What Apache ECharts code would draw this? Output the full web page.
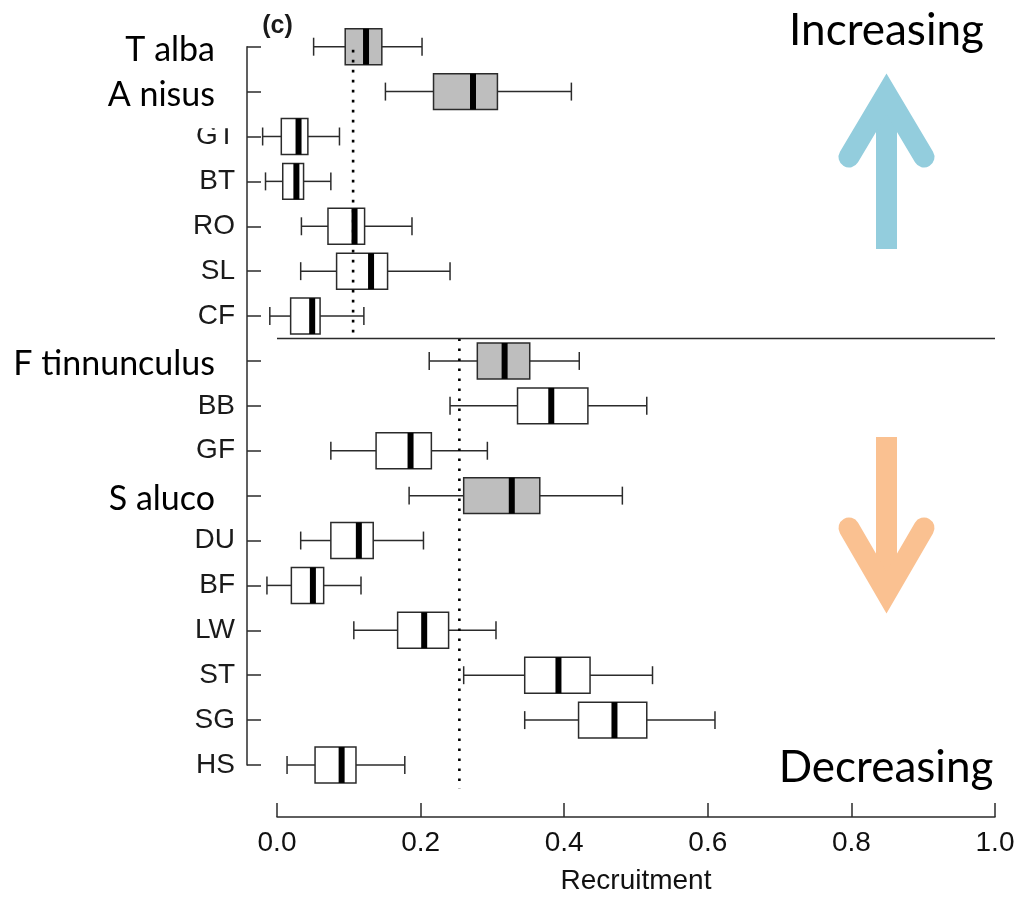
<!DOCTYPE html>
<html>
<head>
<meta charset="utf-8">
<title>Recruitment boxplots</title>
<script src="https://cdn.jsdelivr.net/npm/echarts@6/dist/echarts.min.js"></script>
<style>
  html, body { margin: 0; padding: 0; background: #fff; }
  #chart { width: 1019px; height: 900px; }
</style>
</head>
<body>
<div id="chart"></div>
<script>
// rows, top to bottom
const categories = ['T alba', 'A nisus', 'GT', 'BT', 'RO', 'SL', 'CF',
  'F tinnunculus', 'BB', 'GF', 'S aluco', 'DU', 'BF', 'LW', 'ST', 'SG', 'HS'];
// raptor rows (grey boxes, larger labels)
const raptors = ['T alba', 'A nisus', 'F tinnunculus', 'S aluco'];

// box statistics per row
const whiskerLow  = [0.051, 0.151, -0.020, -0.016, 0.034, 0.033, -0.010, 0.212, 0.241, 0.075, 0.184, 0.033, -0.014, 0.107, 0.260, 0.345, 0.014];
const quart1      = [0.095, 0.218, 0.006, 0.008, 0.071, 0.083, 0.019, 0.279, 0.335, 0.138, 0.260, 0.075, 0.020, 0.168, 0.345, 0.420, 0.053];
const medians     = [0.124, 0.273, 0.030, 0.027, 0.108, 0.131, 0.049, 0.317, 0.382, 0.186, 0.327, 0.114, 0.050, 0.205, 0.392, 0.470, 0.090];
const quart3      = [0.146, 0.307, 0.043, 0.037, 0.122, 0.154, 0.060, 0.352, 0.433, 0.215, 0.366, 0.134, 0.065, 0.239, 0.436, 0.515, 0.110];
const whiskerHigh = [0.202, 0.410, 0.087, 0.075, 0.188, 0.241, 0.121, 0.421, 0.515, 0.293, 0.481, 0.204, 0.117, 0.305, 0.523, 0.610, 0.178];

// group means (dotted lines) and the rows they span
const groupMeans = [0.106, 0.254];
const groupSpans = [[0.07, 6.5], [6.5, 16.53]];

const boxData = categories.map((c, i) =>
  [i, whiskerLow[i], quart1[i], medians[i], quart3[i], whiskerHigh[i]]);
const meanData = groupMeans.map((m, i) => [m, groupSpans[i][0], groupSpans[i][1]]);

const chart = echarts.init(document.getElementById('chart'));

const STROKE = '#2b2b2b';

function renderBox(params, api) {
  const row = api.value(0);
  const lo = api.coord([api.value(1), row]);
  const q1 = api.coord([api.value(2), row]);
  const md = api.coord([api.value(3), row]);
  const q3 = api.coord([api.value(4), row]);
  const hi = api.coord([api.value(5), row]);
  const band = api.size([0, 1])[1];
  const h = band * 0.8;
  const cap = band * 0.2;
  const y = lo[1];
  const fill = raptors.includes(categories[row]) ? '#bebebe' : '#ffffff';
  const line = { stroke: STROKE, lineWidth: 1.5 };
  return {
    type: 'group',
    children: [
      { type: 'line', shape: { x1: lo[0], y1: y, x2: q1[0], y2: y }, style: line },
      { type: 'line', shape: { x1: q3[0], y1: y, x2: hi[0], y2: y }, style: line },
      { type: 'line', shape: { x1: lo[0], y1: y - cap, x2: lo[0], y2: y + cap }, style: line },
      { type: 'line', shape: { x1: hi[0], y1: y - cap, x2: hi[0], y2: y + cap }, style: line },
      { type: 'rect', shape: { x: q1[0], y: y - h / 2, width: q3[0] - q1[0], height: h },
        style: { fill: fill, stroke: STROKE, lineWidth: 1.5 } },
      { type: 'rect', shape: { x: md[0] - 3, y: y - h / 2, width: 6, height: h },
        style: { fill: '#000' } }
    ]
  };
}

// category axis snaps to whole rows, so add the fractional part by hand
function rowY(api, x, r) {
  const base = Math.floor(r);
  return api.coord([x, base])[1] + (r - base) * api.size([0, 1])[1];
}

function renderMean(params, api) {
  const x = api.coord([api.value(0), 0])[0];
  const y1 = rowY(api, api.value(0), api.value(1));
  const y2 = rowY(api, api.value(0), api.value(2));
  const children = [{
    type: 'line',
    shape: { x1: x, y1: y1, x2: x, y2: y2 },
    style: { stroke: '#000', lineWidth: 2.6, lineDash: [2.6, 7.4] }
  }];
  if (params.dataIndex === 1) {
    const a = api.coord([0, 0])[0];
    const b = api.coord([1, 0])[0];
    children.push({
      type: 'line',
      shape: { x1: a, y1: y1, x2: b, y2: y1 },
      style: { stroke: STROKE, lineWidth: 1.5 }
    });
  }
  return { type: 'group', children: children };
}

chart.setOption({
  animation: false,
  backgroundColor: '#fff',
  grid: { left: 277, right: 24, top: 46.7, bottom: 134 },
  xAxis: {
    type: 'value',
    min: 0,
    max: 1,
    interval: 0.2,
    offset: 52,
    name: 'Recruitment',
    nameLocation: 'middle',
    nameGap: 50,
    nameTextStyle: { fontFamily: 'Liberation Sans', fontSize: 28, color: '#111' },
    splitLine: { show: false },
    axisLine: { show: true, onZero: false, lineStyle: { color: STROKE, width: 1.5 } },
    axisTick: { show: true, inside: true, length: 14, lineStyle: { color: STROKE, width: 1.5 } },
    axisLabel: {
      margin: 12,
      fontFamily: 'Liberation Sans',
      fontSize: 28,
      color: '#111',
      formatter: v => v.toFixed(1)
    }
  },
  yAxis: {
    type: 'category',
    data: categories,
    inverse: true,
    boundaryGap: false,
    offset: 30,
    axisLine: { show: true, onZero: false, lineStyle: { color: STROKE, width: 1.5 } },
    axisTick: { show: true, inside: true, length: 14, alignWithLabel: true,
      lineStyle: { color: STROKE, width: 1.5 } },
    splitLine: { show: false },
    axisLabel: {
      margin: 12,
      interval: 0,
      formatter: v => raptors.includes(v) ? '{sp|' + v + '}' : '{cd|' + v + '}',
      rich: {
        sp: { fontFamily: 'Lato', fontSize: 34, color: '#000', padding: [6, 20, 0, 0] },
        cd: { fontFamily: 'Liberation Sans', fontSize: 28, color: '#1a1a1a' }
      }
    }
  },
  series: [
    {
      type: 'custom',
      name: 'boxes',
      renderItem: renderBox,
      data: boxData,
      encode: { y: 0, x: [1, 2, 3, 4, 5] },
      clip: false,
      z: 2
    },
    {
      type: 'custom',
      name: 'means',
      renderItem: renderMean,
      data: meanData,
      encode: { x: 0 },
      clip: false,
      z: 3
    }
  ],
  graphic: [
    // pasted text boxes that clip the code labels underneath
    { type: 'rect', z: 100, shape: { x: 0, y: 112, width: 237, height: 16.3 }, style: { fill: '#fff' } },
    { type: 'rect', z: 100, shape: { x: 0, y: 325, width: 237, height: 14 }, style: { fill: '#fff' } },
    { type: 'text', z: 101, style: { text: '(c)', x: 277.5, y: 26, align: 'center', verticalAlign: 'middle',
      fontFamily: 'Liberation Sans', fontSize: 25, fontWeight: 'bold', fill: '#1a1a1a' } },
    { type: 'text', z: 101, style: { text: 'Increasing', x: 886.5, y: 31, align: 'center', verticalAlign: 'middle',
      fontFamily: 'Lato', fontSize: 44, fill: '#000' } },
    { type: 'text', z: 101, style: { text: 'Decreasing', x: 886, y: 768, align: 'center', verticalAlign: 'middle',
      fontFamily: 'Lato', fontSize: 44, fill: '#000' } },
    // up arrow
    { type: 'rect', z: 101, shape: { x: 876, y: 100, width: 21, height: 149 }, style: { fill: '#93cddd' } },
    { type: 'polyline', z: 101, shape: { points: [[849, 157], [886.5, 94], [924, 157]] },
      style: { stroke: '#93cddd', lineWidth: 21, lineCap: 'round', lineJoin: 'miter', fill: null } },
    // down arrow
    { type: 'rect', z: 101, shape: { x: 876, y: 437, width: 21, height: 150 }, style: { fill: '#fac191' } },
    { type: 'polyline', z: 101, shape: { points: [[849, 528], [886.5, 592.5], [924, 528]] },
      style: { stroke: '#fac191', lineWidth: 21, lineCap: 'round', lineJoin: 'miter', fill: null } }
  ]
});
</script>
</body>
</html>
